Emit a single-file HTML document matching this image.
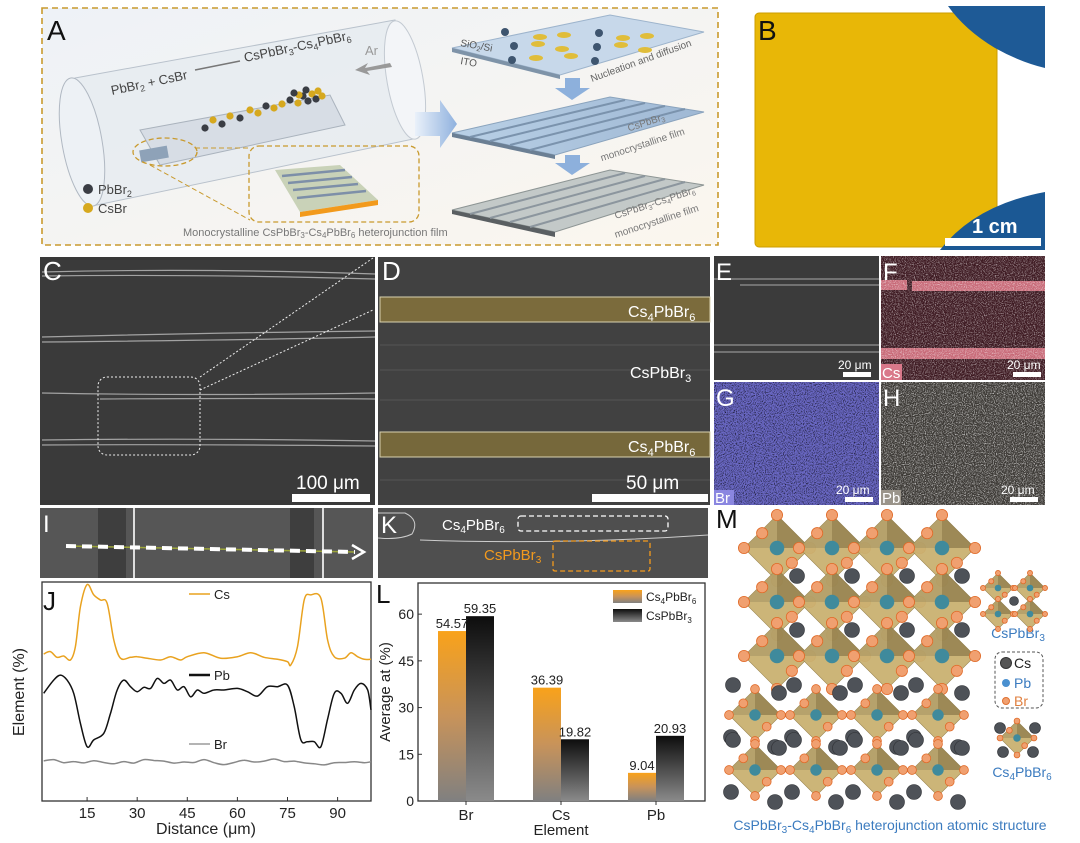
<!DOCTYPE html>
<html><head><meta charset="utf-8"><style>
html,body{margin:0;padding:0;background:#fff;}
svg{display:block;font-family:"Liberation Sans",sans-serif;}
</style></head><body>
<svg id="root" width="1080" height="843" viewBox="0 0 1080 843" xmlns="http://www.w3.org/2000/svg">
<defs>
<linearGradient id="gOr" x1="0" y1="0" x2="0" y2="1"><stop offset="0" stop-color="#f9a21a"/><stop offset="0.5" stop-color="#c8935a"/><stop offset="1" stop-color="#808080"/></linearGradient>
<linearGradient id="gBk" x1="0" y1="0" x2="0" y2="1"><stop offset="0" stop-color="#0d0d0d"/><stop offset="1" stop-color="#8a8a8a"/></linearGradient>
<linearGradient id="gA" x1="0" y1="0" x2="1" y2="1"><stop offset="0" stop-color="#eef2f7"/><stop offset="1" stop-color="#fbf6ee"/></linearGradient>
<linearGradient id="gFilm" x1="0" y1="0" x2="1" y2="0"><stop offset="0" stop-color="#b9d0e6"/><stop offset="1" stop-color="#9fb8d4"/></linearGradient>
<linearGradient id="gArrow" x1="0" y1="0" x2="1" y2="0"><stop offset="0" stop-color="#eaf1fa"/><stop offset="1" stop-color="#8fb1de"/></linearGradient>
<filter id="nz" x="0" y="0" width="1" height="1"><feTurbulence type="fractalNoise" baseFrequency="0.9" numOctaves="2" seed="4"/><feColorMatrix type="matrix" values="0 0 0 0 1  0 0 0 0 1  0 0 0 0 1  3 0 0 0 -1.35"/></filter>
<filter id="nz2" x="0" y="0" width="1" height="1"><feTurbulence type="fractalNoise" baseFrequency="0.9" numOctaves="2" seed="9"/><feColorMatrix type="matrix" values="0 0 0 0 0  0 0 0 0 0  0 0 0 0 0  3 0 0 0 -1.4"/></filter>
</defs>

<!-- Panel A -->
<g>
<rect x="42" y="8" width="676" height="237" fill="url(#gA)" stroke="#c99a2e" stroke-width="1.6" stroke-dasharray="6,4"/>
<text x="47" y="40" font-size="28" fill="#111">A</text>
<g>
<path d="M75,78 L395,20 L418,138 L92,206 Z" fill="#e4e9f0" fill-opacity="0.7" stroke="#b9c2cc"/>
<ellipse cx="82" cy="142" rx="20" ry="65" fill="#edf1f5" stroke="#b0b8c2" transform="rotate(-10 82 142)"/>
<ellipse cx="405" cy="80" rx="18" ry="60" fill="#f3f5f8" stroke="#c3cad2" transform="rotate(-10 405 80)"/>
<path d="M140,130 L330,95 L345,125 L160,165 Z" fill="#d7dde5" stroke="#aab3bd"/>
<rect x="140" y="148" width="28" height="12" fill="#8ea2b8" transform="rotate(-10 154 154)"/>
</g>
<text x="112" y="95" font-size="13" fill="#444" transform="rotate(-12 112 95)">PbBr<tspan font-size="9" dy="3">2</tspan><tspan dy="-3"> + CsBr</tspan></text>
<line x1="195" y1="70" x2="240" y2="61" stroke="#777" stroke-width="1.5"/>
<text x="245" y="62" font-size="13" fill="#444" transform="rotate(-12 245 62)">CsPbBr<tspan font-size="9" dy="3">3</tspan><tspan dy="-3">-Cs</tspan><tspan font-size="9" dy="3">4</tspan><tspan dy="-3">PbBr</tspan><tspan font-size="9" dy="3">6</tspan></text>
<text x="365" y="55" font-size="13" fill="#999">Ar</text>
<path d="M390,63 L365,68 L368,63 L355,70 L370,75 L367,71 L392,67 Z" fill="#999"/>
<g id="particles"></g>
<circle cx="88" cy="189" r="5" fill="#3a3d44"/>
<text x="98" y="194" font-size="13" fill="#444">PbBr<tspan font-size="9" dy="3">2</tspan></text>
<circle cx="88" cy="208" r="5" fill="#d6a81e"/>
<text x="98" y="213" font-size="13" fill="#444">CsBr</text>
<ellipse cx="165" cy="152" rx="32" ry="14" fill="none" stroke="#c99a2e" stroke-width="1.3" stroke-dasharray="5,3"/>
<rect x="249" y="146" width="170" height="76" rx="10" fill="none" stroke="#c99a2e" stroke-width="1.3" stroke-dasharray="5,3"/>
<line x1="150" y1="165" x2="250" y2="220" stroke="#c99a2e" stroke-dasharray="5,3"/>
<line x1="195" y1="148" x2="249" y2="148" stroke="#c99a2e" stroke-dasharray="5,3"/>
<g>
<path d="M275,170 L340,165 L378,200 L300,212 Z" fill="#c9d2b8"/>
<path d="M300,212 L378,200 L378,205 L300,217 Z" fill="#f29a1c"/>
<path d="M282,176 L345,170 M288,183 L352,177 M293,190 L358,184 M297,198 L366,191" stroke="#7d8fa8" stroke-width="2.5"/>
</g>
<text x="183" y="236" font-size="11" fill="#777">Monocrystalline CsPbBr<tspan font-size="8" dy="2">3</tspan><tspan dy="-2">-Cs</tspan><tspan font-size="8" dy="2">4</tspan><tspan dy="-2">PbBr</tspan><tspan font-size="8" dy="2">6</tspan><tspan dy="-2"> heterojunction film</tspan></text>
<path d="M415,112 L440,112 L440,100 L457,124 L440,148 L440,136 L415,136 Z" fill="url(#gArrow)"/>
<g>
<path d="M452,48 L610,15 L704,32 L560,75 Z" fill="#c7d8ea" stroke="#9db4cc"/>
<path d="M452,48 L560,75 L560,79 L452,52 Z" fill="#7e93a8"/>
<g id="dots"></g>
</g>
<text x="460" y="46" font-size="10" fill="#555" transform="rotate(10 460 46)">SiO<tspan font-size="7" dy="2">2</tspan><tspan dy="-2">/Si</tspan></text>
<text x="460" y="64" font-size="10" fill="#555" transform="rotate(10 460 64)">ITO</text>
<text x="592" y="82" font-size="10" fill="#666" transform="rotate(-20 592 82)">Nucleation and diffusion</text>
<path d="M565,78 L580,78 L580,88 L590,88 L572,100 L555,88 L565,88 Z" fill="#8db0dc"/>
<g>
<path d="M452,133 L610,97 L704,112 L555,155 Z" fill="url(#gFilm)" stroke="#8aa3bd"/>
<path d="M452,133 L555,155 L555,159 L452,137 Z" fill="#6b7f94"/>
<path d="M470,137 L625,100 M490,141 L645,103 M510,145 L665,106 M530,150 L685,109" stroke="#7b93ad" stroke-width="2"/>
</g>
<text x="605" y="155" font-size="10" fill="#777" transform="rotate(-18 605 155)"><tspan x="635" y="140">CsPbBr<tspan font-size="7" dy="2">3</tspan></tspan><tspan x="600" y="160">monocrystalline film</tspan></text>
<path d="M565,155 L580,155 L580,163 L590,163 L572,175 L555,163 L565,163 Z" fill="#8db0dc"/>
<g>
<path d="M452,210 L610,170 L704,185 L555,232 Z" fill="#c3c9c8" stroke="#8d9594"/>
<path d="M452,210 L555,232 L555,237 L452,214 Z" fill="#5a5f62"/>
<path d="M470,214 L625,173 M490,218 L645,176 M510,222 L665,179 M530,227 L685,182" stroke="#8c969e" stroke-width="2"/>
</g>
<text font-size="10" fill="#777" transform="rotate(-18 620 225)"><tspan x="618" y="218">CsPbBr<tspan font-size="7" dy="2">3</tspan><tspan dy="-2">-Cs</tspan><tspan font-size="7" dy="2">4</tspan><tspan dy="-2">PbBr</tspan><tspan font-size="7" dy="2">6</tspan></tspan><tspan x="612" y="236">monocrystalline film</tspan></text>
</g>

<!-- Panel B -->
<g>
<rect x="752" y="5" width="293" height="245" fill="#fff"/>
<rect x="755" y="13" width="242" height="234" rx="4" fill="#e8b707" stroke="#cc9d00"/>
<path d="M948,6 L1045,6 L1045,68 Q1020,62 995,48 Q965,30 948,6 Z" fill="#1e5a96"/>
<path d="M940,250 Q975,205 1045,192 L1045,250 Z" fill="#1b5894"/>
<text x="758" y="40" font-size="28" fill="#111">B</text>
<rect x="945" y="238" width="96" height="8" fill="#fff"/>
<text x="972" y="233" font-size="20" font-weight="bold" fill="#fff">1 cm</text>
</g>

<!-- Panel C -->
<g>
<rect x="40" y="257" width="335" height="248" fill="#3a3a3a"/>
<g stroke="#bdbdbd" stroke-width="1.2" fill="none" opacity="0.8">
<path d="M42,272 Q200,268 375,274"/><path d="M42,276 Q200,274 375,279"/>
<path d="M42,337 Q200,333 375,331"/><path d="M42,342 Q250,340 375,337"/>
<path d="M42,393 Q200,396 375,393"/><path d="M100,399 Q250,398 375,399"/>
<path d="M42,440 Q200,438 375,441"/><path d="M42,445 Q200,444 375,446"/>
</g>
<rect x="98" y="377" width="102" height="78" rx="9" fill="none" stroke="#eee" stroke-dasharray="2,2"/>
<line x1="200" y1="377" x2="373" y2="258" stroke="#eee" stroke-dasharray="2,2"/>
<line x1="200" y1="390" x2="373" y2="310" stroke="#eee" stroke-dasharray="2,2"/>
<text x="43" y="280" font-size="26" fill="#fff">C</text>
<rect x="292" y="494" width="78" height="8" fill="#fff"/>
<text x="296" y="489" font-size="19" fill="#fff">100 μm</text>
</g>

<!-- Panel D -->
<g>
<rect x="378" y="257" width="332" height="248" fill="#414141"/>
<path d="M380,297 L710,297 L710,322 L380,322 Z" fill="#7b6b3c" stroke="#d9d2b0"/>
<path d="M380,432 L710,432 L710,457 L380,457 Z" fill="#76683b" stroke="#d9d2b0"/>
<g stroke="#555" stroke-width="1"><line x1="380" y1="345" x2="710" y2="345"/><line x1="380" y1="370" x2="710" y2="370"/><line x1="380" y1="400" x2="710" y2="400"/><line x1="380" y1="480" x2="710" y2="480"/></g>
<text x="382" y="280" font-size="26" fill="#fff">D</text>
<text x="628" y="317" font-size="16" fill="#fff">Cs<tspan font-size="11" dy="4">4</tspan><tspan dy="-4">PbBr</tspan><tspan font-size="11" dy="4">6</tspan></text>
<text x="630" y="378" font-size="16" fill="#fff">CsPbBr<tspan font-size="11" dy="4">3</tspan></text>
<text x="628" y="452" font-size="16" fill="#fff">Cs<tspan font-size="11" dy="4">4</tspan><tspan dy="-4">PbBr</tspan><tspan font-size="11" dy="4">6</tspan></text>
<rect x="592" y="494" width="116" height="8" fill="#fff"/>
<text x="626" y="489" font-size="19" fill="#fff">50 μm</text>
</g>

<!-- Panels E-H -->
<g>
<rect x="714" y="256" width="165" height="124" fill="#3b3b3b"/>
<path d="M714,279 L879,279 M740,285 L879,285 M714,345 L879,345 M714,352 L879,352" stroke="#aaa" stroke-width="1"/>
<text x="716" y="280" font-size="24" fill="#fff">E</text>
<rect x="843" y="372" width="28" height="5" fill="#fff"/><text x="838" y="369" font-size="12" fill="#fff">20 μm</text>
</g>
<g>
<rect x="881" y="256" width="164" height="124" fill="#3e1a22"/>
<rect x="881" y="280" width="26" height="10" fill="#c86a78"/><rect x="912" y="281" width="133" height="10" fill="#c86a78"/>
<rect x="881" y="348" width="164" height="11" fill="#c86a78"/>
<rect x="881" y="256" width="164" height="124" fill="#e38a98" filter="url(#nz)" opacity="0.55"/>
<text x="883" y="280" font-size="24" fill="#fff">F</text>
<rect x="881" y="364" width="21" height="16" fill="#d9788a"/><text x="882" y="378" font-size="15" fill="#fff">Cs</text>
<rect x="1013" y="372" width="28" height="5" fill="#fff"/><text x="1007" y="369" font-size="12" fill="#fff">20 μm</text>
</g>
<g>
<rect x="714" y="382" width="165" height="123" fill="#6a68c4"/>
<rect x="714" y="382" width="165" height="123" fill="#000" filter="url(#nz2)" opacity="0.8"/>
<text x="716" y="406" font-size="24" fill="#fff">G</text>
<rect x="714" y="490" width="20" height="15" fill="#8a86e0"/><text x="715" y="503" font-size="15" fill="#fff">Br</text>
<rect x="845" y="497" width="28" height="5" fill="#fff"/><text x="836" y="494" font-size="12" fill="#fff">20 μm</text>
</g>
<g>
<rect x="881" y="382" width="164" height="123" fill="#3c3935"/>
<rect x="881" y="382" width="164" height="123" fill="#d9d2c2" filter="url(#nz)" opacity="0.7"/>
<text x="883" y="406" font-size="24" fill="#fff">H</text>
<rect x="881" y="490" width="20" height="15" fill="#9a948a"/><text x="882" y="503" font-size="15" fill="#fff">Pb</text>
<rect x="1010" y="497" width="28" height="5" fill="#fff"/><text x="1001" y="494" font-size="12" fill="#fff">20 μm</text>
</g>

<!-- Panel I -->
<g>
<rect x="40" y="508" width="333" height="70" fill="#565656"/>
<rect x="98" y="508" width="28" height="70" fill="#3e3e3e"/><rect x="290" y="508" width="24" height="70" fill="#3e3e3e"/>
<line x1="134" y1="508" x2="134" y2="578" stroke="#ddd" stroke-width="2"/><line x1="323" y1="508" x2="323" y2="578" stroke="#ddd" stroke-width="2"/>
<line x1="66" y1="546" x2="355" y2="552" stroke="#9ca53b" stroke-width="1.5"/>
<line x1="66" y1="546" x2="355" y2="552" stroke="#fff" stroke-width="4" stroke-dasharray="10,6"/>
<path d="M352,545 L364,552 L352,559" fill="none" stroke="#fff" stroke-width="2.5"/>
<text x="43" y="532" font-size="24" fill="#fff">I</text>
</g>
<!-- Panel K -->
<g>
<rect x="378" y="508" width="330" height="70" fill="#4f4f4f"/>
<path d="M378,538 Q400,540 412,534 Q420,520 405,513 L378,513" fill="none" stroke="#ccc"/>
<path d="M420,540 Q560,545 708,535" fill="none" stroke="#ccc"/>
<text x="381" y="533" font-size="24" fill="#fff">K</text>
<text x="442" y="530" font-size="15" fill="#fff">Cs<tspan font-size="10" dy="3">4</tspan><tspan dy="-3">PbBr</tspan><tspan font-size="10" dy="3">6</tspan></text>
<rect x="518" y="516" width="150" height="15" rx="3" fill="none" stroke="#fff" stroke-dasharray="5,3" stroke-width="1.3"/>
<text x="484" y="560" font-size="15" fill="#f39a1d">CsPbBr<tspan font-size="10" dy="3">3</tspan></text>
<rect x="553" y="541" width="97" height="30" rx="2" fill="none" stroke="#f39a1d" stroke-dasharray="5,3" stroke-width="1.3"/>
</g>

<!-- Panel J -->
<g id="chartJ">
<rect x="42" y="582" width="329" height="219" fill="#fff" stroke="#333" stroke-width="1.3"/>
<text x="43" y="610" font-size="26" fill="#111">J</text>
<text transform="translate(24 692) rotate(-90)" text-anchor="middle" font-size="16" fill="#222">Element (%)</text>
<text x="206" y="834" text-anchor="middle" font-size="16" fill="#222">Distance (μm)</text>
</g>

<!-- Panel L -->
<g id="chartL">
<rect x="418" y="583" width="287" height="218" fill="#fff" stroke="#333" stroke-width="1.3"/>
<text x="376" y="603" font-size="26" fill="#111">L</text>
<text transform="translate(390 692) rotate(-90)" text-anchor="middle" font-size="15" fill="#222">Average at (%)</text>
<text x="561" y="835" text-anchor="middle" font-size="15" fill="#222">Element</text>
<rect x="613" y="590" width="29" height="13" fill="url(#gOr)"/>
<text x="646" y="601" font-size="12" fill="#222">Cs<tspan font-size="8" dy="3">4</tspan><tspan dy="-3">PbBr</tspan><tspan font-size="8" dy="3">6</tspan></text>
<rect x="613" y="609" width="29" height="13" fill="url(#gBk)"/>
<text x="646" y="620" font-size="12" fill="#222">CsPbBr<tspan font-size="8" dy="3">3</tspan></text>
</g>

<!-- Panel M -->
<g id="panelM">
<text x="716" y="528" font-size="26" fill="#111">M</text>
<text x="1018" y="638" text-anchor="middle" font-size="14" fill="#3b7bbf">CsPbBr<tspan font-size="10" dy="3">3</tspan></text>
<rect x="995" y="652" width="48" height="56" rx="7" fill="none" stroke="#555" stroke-dasharray="3,2"/>
<circle cx="1006" cy="663" r="5.5" fill="#555" stroke="#333"/><text x="1014" y="668" font-size="14" fill="#222">Cs</text>
<circle cx="1006" cy="683" r="4" fill="#4a90d0"/><text x="1014" y="688" font-size="14" fill="#3b7bbf">Pb</text>
<circle cx="1006" cy="701" r="3.5" fill="#f0a070" stroke="#e07030"/><text x="1014" y="706" font-size="14" fill="#e08040">Br</text>
<text x="1022" y="777" text-anchor="middle" font-size="14" fill="#3b7bbf">Cs<tspan font-size="10" dy="3">4</tspan><tspan dy="-3">PbBr</tspan><tspan font-size="10" dy="3">6</tspan></text>
<text x="890" y="830" text-anchor="middle" font-size="14" fill="#3b7bbf">CsPbBr<tspan font-size="10" dy="3">3</tspan><tspan dy="-3">-Cs</tspan><tspan font-size="10" dy="3">4</tspan><tspan dy="-3">PbBr</tspan><tspan font-size="10" dy="3">6</tspan><tspan dy="-3"> heterojunction atomic structure</tspan></text>
</g>
</svg>
<script>
// ---- Panel J data ----
const csX = [2,4,6,8,10,11.5,13,15,17,19,21,23,25,28,30,33,37,40,43,45,50,55,60,64,68,72,75,76,78,80,82,85,87,89,92,94,96,98,100];
const csY = [67.1,68.2,65.6,66.2,64.4,70.5,88.7,98.8,94.1,91.8,90.3,73.5,65.2,65.6,65.9,65.2,64.4,65.9,64.4,65.9,67.7,65.2,65.9,67.7,65.6,64.7,63.6,62.1,70.5,91.8,94.1,92.6,73.5,65.9,65.2,67.7,65.9,64.7,64.7];
const pbX = [2,5,7,9,11,13,15,17,20,22,24,26,28,30,32,34,36,38,40,42,44,46,48,50,53,56,60,63,66,69,72,75,77,79,81,83,85,87,89,91,93,95,97,99,100];
const pbY = [49.2,55.2,57.5,55.2,49.2,35.5,24.8,27.9,30.9,40,50.7,55.2,52.2,49.9,51.9,51.4,56,53.7,55.2,50.7,52.2,47.6,50.7,49.2,50.7,50.7,51.4,49.9,47.9,52.2,52.2,52.9,43.1,27.9,27.1,27.1,24.8,37.4,49.2,49.2,44.6,50.7,53.7,50.7,41.6];
const brX = [2,5,8,11,14,17,20,23,26,29,32,35,38,41,44,47,50,53,56,59,62,65,68,71,74,77,80,83,86,89,92,95,98,100];
const brY = [18.3,18.9,17.5,18.0,17.4,18.4,17.6,17.0,18.0,17.3,18.9,18.5,18.2,17.3,17.8,17.6,18.9,17.5,16.6,17.6,18.6,17.8,18.2,19.2,18.0,18.2,17.4,17.0,16.5,17.5,17.6,17.9,17.5,17.9];
const jTicks = [15,30,45,60,75,90];
// ---- Panel L data ----
const elements = ['Br','Cs','Pb'];
const cs4Vals = [54.57,36.39,9.04];
const cspVals = [59.35,19.82,20.93];
const lTicks = [0,15,30,45,60];

const NS='http://www.w3.org/2000/svg';
function mk(tag, attrs, parent){const e=document.createElementNS(NS,tag);for(const k in attrs)e.setAttribute(k,attrs[k]);parent.appendChild(e);return e;}

// J axes
const jx = v => 42 + (v-1.5)/(100-1.5)*329;
const jy = v => 801 - v/100*219;
function smooth(xs, ys){
  const p = xs.map((x,i)=>[jx(x),jy(ys[i])]);
  let d='M'+p[0][0].toFixed(1)+','+p[0][1].toFixed(1);
  for(let i=0;i<p.length-1;i++){
    const p0=p[Math.max(0,i-1)],p1=p[i],p2=p[i+1],p3=p[Math.min(p.length-1,i+2)];
    const c1=[p1[0]+(p2[0]-p0[0])/6,p1[1]+(p2[1]-p0[1])/6];
    const c2=[p2[0]-(p3[0]-p1[0])/6,p2[1]-(p3[1]-p1[1])/6];
    d+=` C${c1[0].toFixed(1)},${c1[1].toFixed(1)} ${c2[0].toFixed(1)},${c2[1].toFixed(1)} ${p2[0].toFixed(1)},${p2[1].toFixed(1)}`;
  }
  return d;
}
const J=document.getElementById('chartJ');
jTicks.forEach(t=>{
  const tk=mk('line',{x1:jx(t),x2:jx(t),y1:801,y2:797,stroke:'#333'},J);
  
  
  const tl=mk('text',{x:jx(t),y:818,'text-anchor':'middle','font-size':15,fill:'#222'},J);
  tl.textContent=t;
  
  
});
const lineCs=mk('path',{d:smooth(csX,csY),fill:'none',stroke:'#e9a21f','stroke-width':1.5},J);


const linePb=mk('path',{d:smooth(pbX,pbY),fill:'none',stroke:'#111','stroke-width':1.5},J);


const lineBr=mk('path',{d:smooth(brX,brY),fill:'none',stroke:'#888','stroke-width':1.5},J);


[['Cs','#e9a21f',594,1.5],['Pb','#111',675,2.5],['Br','#888',744,1.3]].forEach(([n,c,y,w])=>{
  const l=mk('line',{x1:189,x2:210,y1:y,y2:y,stroke:c,'stroke-width':w},J);
  
  
  const t=mk('text',{x:214,y:y+5,'font-size':13,fill:'#222'},J);
  t.textContent=n;
  
  
});

// L axes
const ly = v => 801 - v/70*218;
const lband = i => 418.5 + 95*(i+0.5);
const L=document.getElementById('chartL');
lTicks.forEach(t=>{
  const tk=mk('line',{x1:418,x2:422,y1:ly(t),y2:ly(t),stroke:'#333'},L);
  
  
  const tl=mk('text',{x:414,y:ly(t)+5,'text-anchor':'end','font-size':14,fill:'#222'},L);
  tl.textContent=t;
  
  
});
elements.forEach((el,i)=>{
  const c=lband(i), bw=28;
  const b1=mk('rect',{x:c-bw,y:ly(cs4Vals[i]),width:bw,height:801-ly(cs4Vals[i]),fill:'url(#gOr)'},L);
  
  
  const b2=mk('rect',{x:c,y:ly(cspVals[i]),width:bw,height:801-ly(cspVals[i]),fill:'url(#gBk)'},L);
  
  
  const v1=mk('text',{x:c-bw/2,y:ly(cs4Vals[i])-3,'text-anchor':'middle','font-size':13,fill:'#222'},L);
  v1.textContent=cs4Vals[i].toFixed(2);
  
  
  const v2=mk('text',{x:c+bw/2,y:ly(cspVals[i])-3,'text-anchor':'middle','font-size':13,fill:'#222'},L);
  v2.textContent=cspVals[i].toFixed(2);
  
  
  const tk=mk('line',{x1:c,x2:c,y1:801,y2:805,stroke:'#333'},L);
  
  
  const tl=mk('text',{x:c,y:820,'text-anchor':'middle','font-size':15,fill:'#222'},L);
  tl.textContent=el;
  
  
});

// Panel A decorative particles
const P=document.getElementById('particles');
const chain=[[205,128,0],[213,120,1],[222,124,0],[230,116,1],[240,118,0],[250,110,1],[258,113,1],[266,106,0],[274,108,1],[282,104,1],[290,100,0],[298,103,1],[303,96,0],[308,101,0],[312,94,1],[316,99,0],[318,91,1],[306,90,0],[322,96,1],[299,95,1],[294,93,0]];
chain.forEach(([x,y,t])=>{mk('circle',{cx:x,cy:y,r:3.6,fill:t?'#d6a81e':'#3a3d44'},P);});
const D=document.getElementById('dots');
for(let i=0;i<16;i++){const x=505+(i%6)*28+(i*7%11),y=32+Math.floor(i/6)*12+(i*5%7);mk('ellipse',{cx:x,cy:y,rx:i%3?7:4,ry:i%3?3:4,fill:i%3?'#e0bd3a':'#3e556f'},D);}

// Panel M crystal structure
const M=document.getElementById('panelM');
function octa(cx,cy,s){
  mk('path',{d:`M${cx},${cy-s} L${cx+s},${cy} L${cx},${cy+s} L${cx-s},${cy} Z`,fill:'#c9b171',stroke:'#9a8550','stroke-width':0.6,'fill-opacity':0.95},M);
  mk('path',{d:`M${cx},${cy-s} L${cx+s},${cy} L${cx},${cy} Z`,fill:'#7d6d40','fill-opacity':0.6},M);
  mk('path',{d:`M${cx},${cy-s} L${cx-s},${cy} L${cx},${cy} Z`,fill:'#a0905f','fill-opacity':0.5},M);
  mk('circle',{cx:cx,cy:cy,r:s*0.22,fill:'#3f8a9c'},M);
  [[0,-s],[s,0],[0,s],[-s,0],[-s*0.45,-s*0.45],[s*0.45,s*0.45]].forEach(([dx,dy])=>mk('circle',{cx:cx+dx,cy:cy+dy,r:s*0.17,fill:'#f0a070',stroke:'#e06a28','stroke-width':0.8},M));
}
function cs(x,y,r){mk('circle',{cx:x,cy:y,r:r,fill:'#4e5258',stroke:'#2d2f33','stroke-width':0.6},M);}
for(let r=0;r<3;r++)for(let c=0;c<4;c++)octa(777+c*55,548+r*54,33);
for(let r=0;r<2;r++)for(let c=0;c<4;c++)cs(797+c*55,576+r*54,7.5);
for(let r=0;r<2;r++)for(let c=0;c<4;c++){const x=755+c*61,y=715+r*55;octa(x,y,26);cs(x-22,y-30,7.5);cs(x+24,y-22,7.5);cs(x-24,y+22,7.5);cs(x+20,y+32,7.5);}
octa(998,588,15);octa(1030,588,15);octa(998,614,15);octa(1030,614,15);cs(1014,601,4.5);
octa(1017,738,17);cs(1000,728,5.5);cs(1035,728,5.5);cs(1003,752,5.5);cs(1033,752,5.5);
</script>
</body></html>
